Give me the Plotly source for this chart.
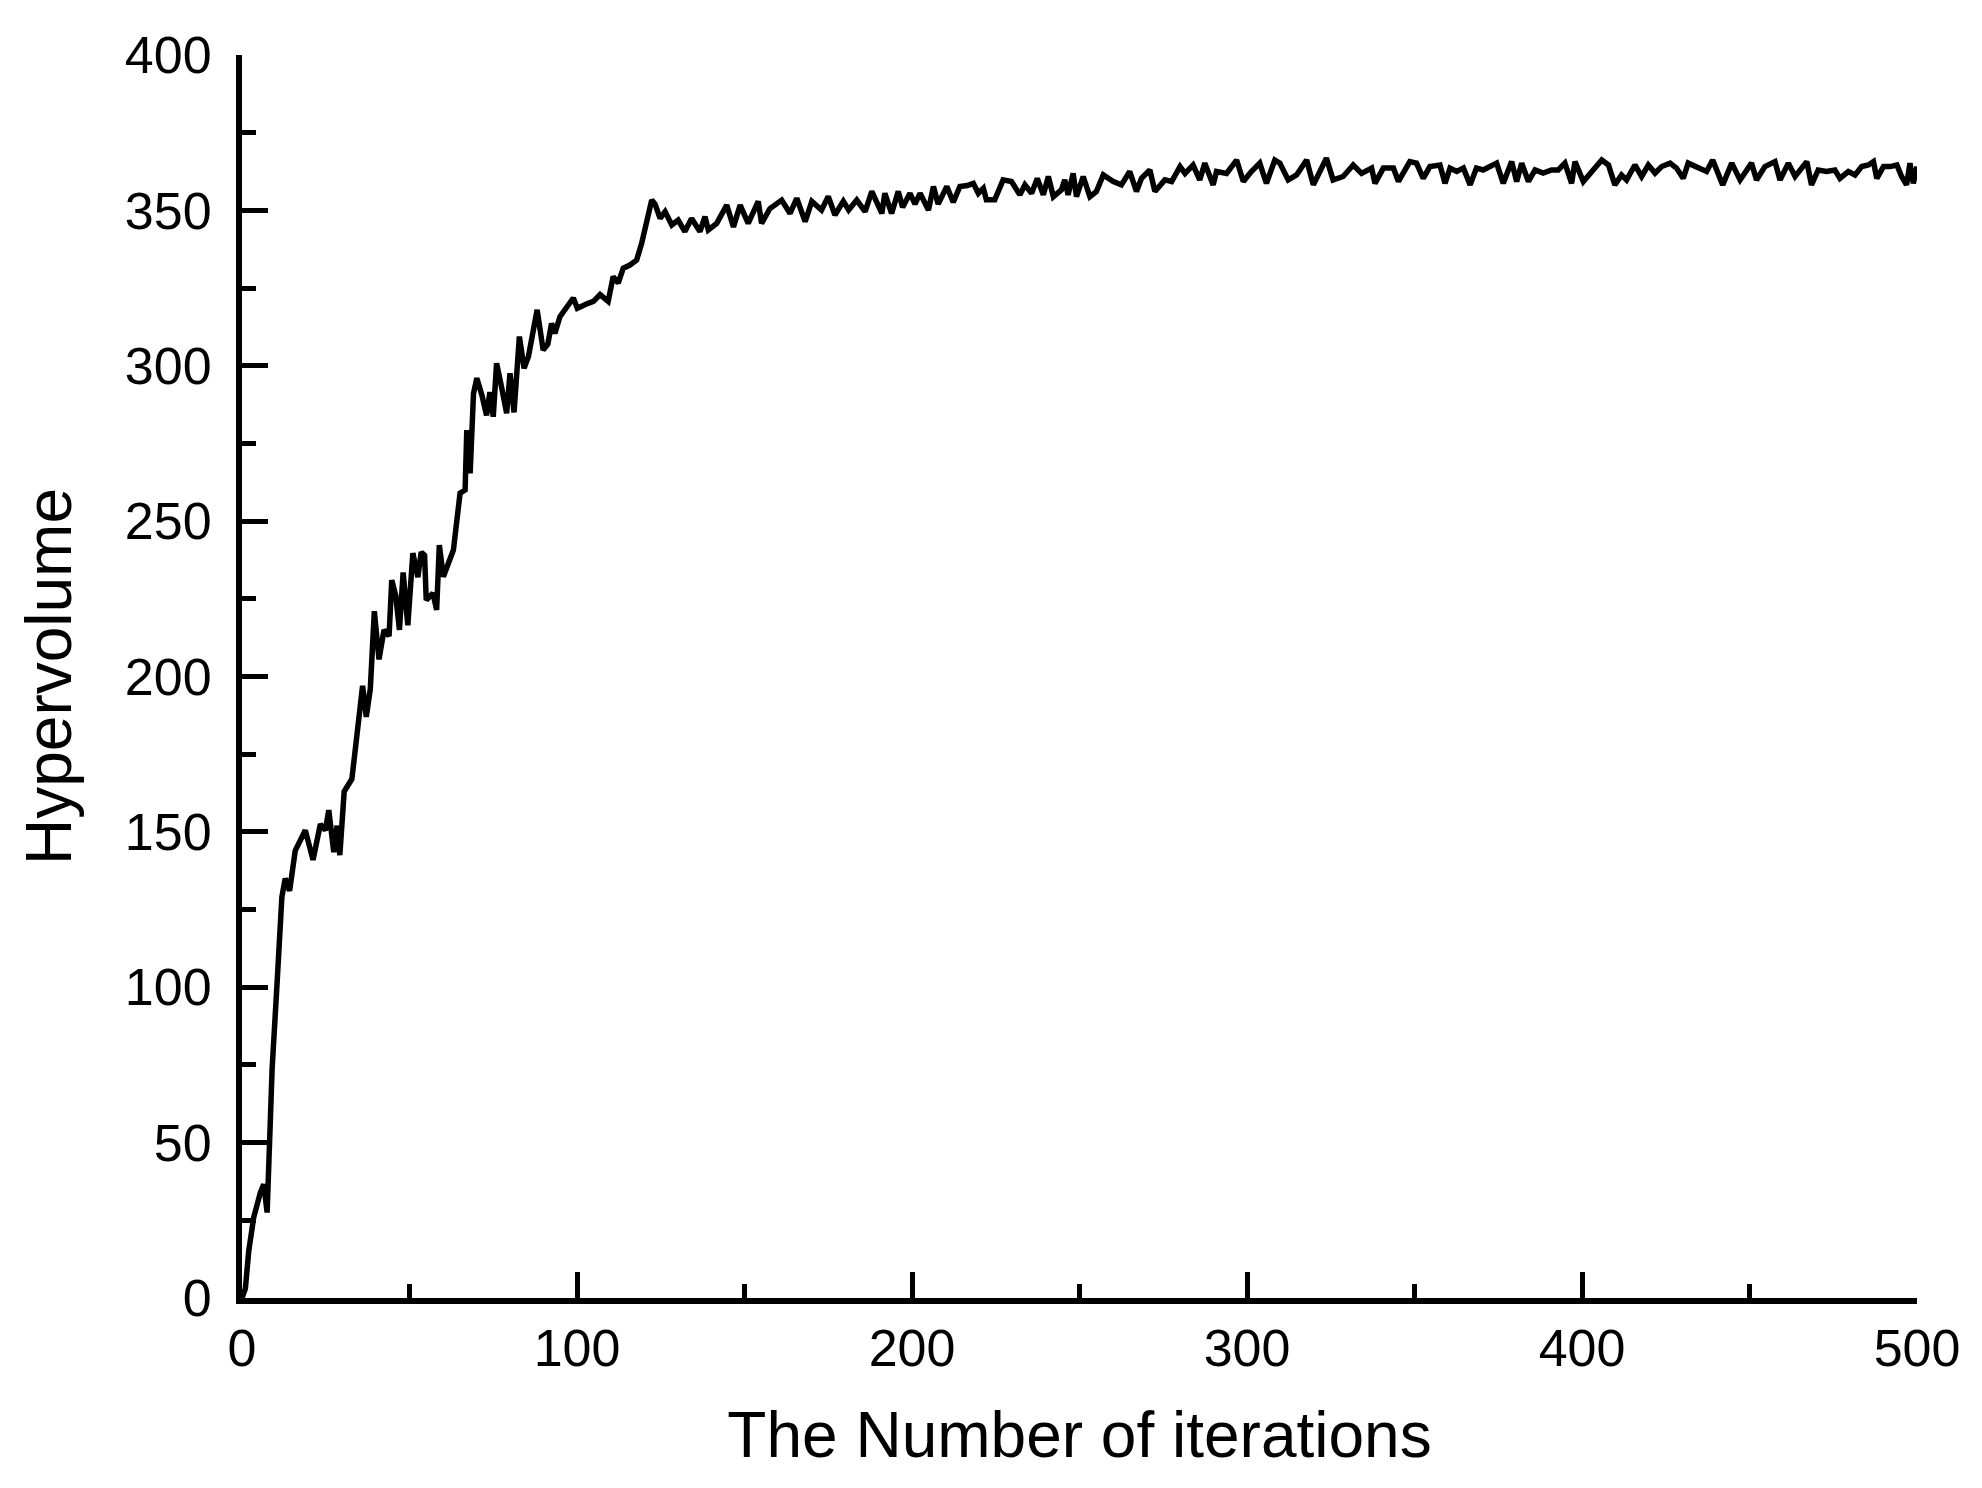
import plotly.graph_objects as go

iterations = [
    0, 1, 2, 3.5, 5.5, 6.5, 7.5, 8, 9, 10.4, 11.9, 12.9, 14.2, 15.9, 17.5, 18.9,
    21.2, 23.4, 24.9, 25.9, 27.4, 28.4, 29.2, 30.5, 32.8, 34.6, 36, 37.1, 38.3,
    39.5, 40.9, 42.4, 43.9, 44.7, 45.9, 47, 48.1, 49.5, 51, 52.5, 53.5, 54.5, 55,
    57, 58.1, 58.9, 60.1, 63.1, 65.1, 66.6, 67.1, 68.1, 69.1, 70.1, 71.6, 73, 74,
    75, 76, 77.5, 79, 80, 81.2, 82.8, 84.2, 85.5, 88.1, 89.9, 91.3, 92.4, 93.4,
    94.9, 96.9, 98.9, 100.1, 101.9, 103.3, 104.9, 106.9, 109.3, 110.8, 112.3,
    113.8, 115.8, 117.8, 119.3, 120.8, 122.3, 123.3, 124.8, 126.3, 128.3, 130.2,
    132.2, 134.2, 136.7, 138.2, 139.2, 141.7, 144.7, 146.7, 148.7, 151.1, 154.1,
    155.1, 157.6, 161.1, 163.6, 165.6, 168.1, 170.1, 173, 175, 177, 179.5, 181.1,
    183.5, 186, 188, 191, 191.9, 193.9, 195.9, 197.2, 199.4, 200.9, 202.4, 204.9,
    206.4, 207.8, 210.4, 212.3, 214.3, 216.5, 218.3, 219.8, 221.3, 222.2, 224.7,
    227.2, 229.7, 232.2, 233.7, 235.7, 237.4, 239.2, 240.7, 242.2, 244.6, 245.6,
    246.6, 248.1, 249.1, 251.1, 253.1, 255, 257.1, 260.1, 262.5, 265, 267, 268.5,
    271, 272.5, 275.5, 277.5, 280, 281.5, 283.9, 285.9, 287.4, 289.9, 290.9,
    293.9, 296.9, 298.9, 301.3, 303.8, 305.8, 308.3, 309.8, 312.3, 314.8, 317.8,
    319.8, 321.3, 323.7, 325.7, 328.7, 331.7, 334.2, 337.2, 338.2, 340.7, 343.7,
    345.2, 348.6, 350.6, 352.6, 354.6, 357.6, 359.1, 360.6, 362.6, 364.6, 366.6,
    368.5, 370.5, 372.5, 374.5, 376.5, 379, 380.5, 382, 384, 386, 388.4, 390.9,
    392.9, 394.9, 396.9, 397.9, 400.4, 402.9, 405.9, 407.9, 409.8, 411.8, 413.3,
    415.8, 417.8, 419.8, 421.8, 423.8, 426.3, 428.2, 430.2, 431.7, 434.2, 437.2,
    439, 442, 444.7, 447.2, 450.6, 452.1, 454.6, 457.6, 459.1, 461.6, 463.6,
    465.1, 467.1, 468.5, 470.5, 473, 475.5, 477, 479.5, 481.5, 483.5, 485.5, 487,
    488, 490, 492, 494, 495.4, 496.9, 497.9, 498.9, 500,
]
hypervolume = [
    0, 3, 15, 26, 34, 36.6, 27.5, 42, 74, 100, 129, 135, 131, 144, 148, 150.5,
    141, 152.5, 150.5, 157, 143.5, 152, 142.5, 163, 167, 182, 197, 187, 196,
    221, 205.5, 215, 213, 231, 226, 215, 233.5, 216.5, 239.7, 232, 240, 239, 224.6,
    226.8, 221.4, 242.3, 232.1, 240.7, 259, 260, 279.3, 265.4, 291, 296, 290.6, 284, 291.5,
    283.6, 300.8, 293, 284.7, 297.6, 285, 309.4, 299.2, 303, 318, 305, 307, 313.6, 310.4,
    315.8, 318.5, 321.8, 318.5, 319.6, 320.1, 320.7, 322.9, 320.7, 328.7, 326.6,
    331.4, 332.4, 334, 339.4, 345.8, 353.3, 352, 347.4, 349.6, 345.3, 346.9,
    343.2, 347.4, 343.2, 348, 343.7, 345.8, 351.7, 344.7, 351.7, 345.8, 352.9,
    345.8, 350.6, 353.3, 349, 353.9, 346.4, 352.9, 350.1, 354.5, 348.5, 352.9, 350.1,
    353.3, 349.6, 356.1, 349, 355.5, 349, 356.1, 351, 355.5, 352, 355.5, 350.1,
    357.7, 352, 357.7, 352.6, 357.7, 358, 358.7, 355.5, 357.1, 353.4, 353.4,
    359.8, 359.3, 355, 358.2, 355.5, 360.3, 355, 360.9, 354.4, 356.6, 359.8,
    355, 361.9, 354.4, 360.9, 354.4, 356, 361.4, 359.3, 358.2, 362.5, 356.1, 360.3,
    363, 356.1, 359.8, 359.3, 364.1, 361.9, 364.6, 359.8, 365.2, 358.2, 362.5,
    361.9, 366.2, 359.3, 362.5, 365.2, 358.7, 366.2, 365.2, 359.8, 361.4, 366.2,
    358.2, 361.9, 366.8, 359.8, 360.9, 364.6, 361.9, 363.6, 358.7, 363.6, 363.6,
    359.3, 365.7, 365.2, 360.3, 364.1, 364.6, 358.7, 363.6, 362.5, 363.6, 358.2,
    363.6, 363, 364.1, 365.2, 358.7, 365.7, 359.3, 365.2, 359.3, 363, 362, 363,
    363, 365.2, 358.7, 365.7, 359.3, 362.5, 366.2, 364.6, 358.2, 361.4, 359.8,
    364.6, 360.9, 364.6, 362, 364.1, 365.2, 363.6, 360.3, 365.2, 364.1, 362.5,
    366.2, 358.2, 365.2, 359.8, 365.2, 359.8, 364.1, 365.7, 359.8, 365.2, 360.9,
    363, 365.7, 358.2, 363, 362.5, 363, 360.3, 362.5, 361.4, 364.1, 364.6, 365.7,
    360.3, 364.1, 364.1, 364.6, 360.9, 358.2, 365.2, 358.7, 364.1,
]

x_ticks = [0, 100, 200, 300, 400, 500]
y_ticks = [0, 50, 100, 150, 200, 250, 300, 350, 400]

fig = go.Figure()
fig.add_trace(go.Scatter(
    x=iterations, y=hypervolume, mode="lines",
    line=dict(color="black", width=5.5),
    showlegend=False,
))

axis_font = dict(family="Liberation Sans, Arial, sans-serif", size=52, color="black")
title_font = dict(family="Liberation Sans, Arial, sans-serif", size=64, color="black")

fig.update_xaxes(
    range=[0, 500], tickvals=x_ticks,
    showline=True, linecolor="black", linewidth=6,
    ticks="inside", ticklen=26, tickwidth=5, tickcolor="black",
    minor=dict(dtick=50, ticks="inside", ticklen=14, tickwidth=5, tickcolor="black"),
    showgrid=False, zeroline=False,
    tickfont=axis_font,
    title=dict(text="The Number of iterations", font=title_font, standoff=38),
)
fig.update_yaxes(
    range=[0, 400], tickvals=y_ticks,
    showline=True, linecolor="black", linewidth=6,
    ticks="inside", ticklen=26, tickwidth=5, tickcolor="black",
    minor=dict(dtick=25, ticks="inside", ticklen=14, tickwidth=5, tickcolor="black"),
    showgrid=False, zeroline=False,
    tickfont=axis_font, ticklabelstandoff=14,
    title=dict(text="Hypervolume", font=title_font, standoff=34),
)

# page body adds an 8px offset, so pull the plot area back up/left by that much
fig.update_layout(
    width=1982, height=1488,
    margin=dict(l=234, r=73, t=47, b=198),
    plot_bgcolor="white", paper_bgcolor="white",
)

fig.write_html("out.html")
